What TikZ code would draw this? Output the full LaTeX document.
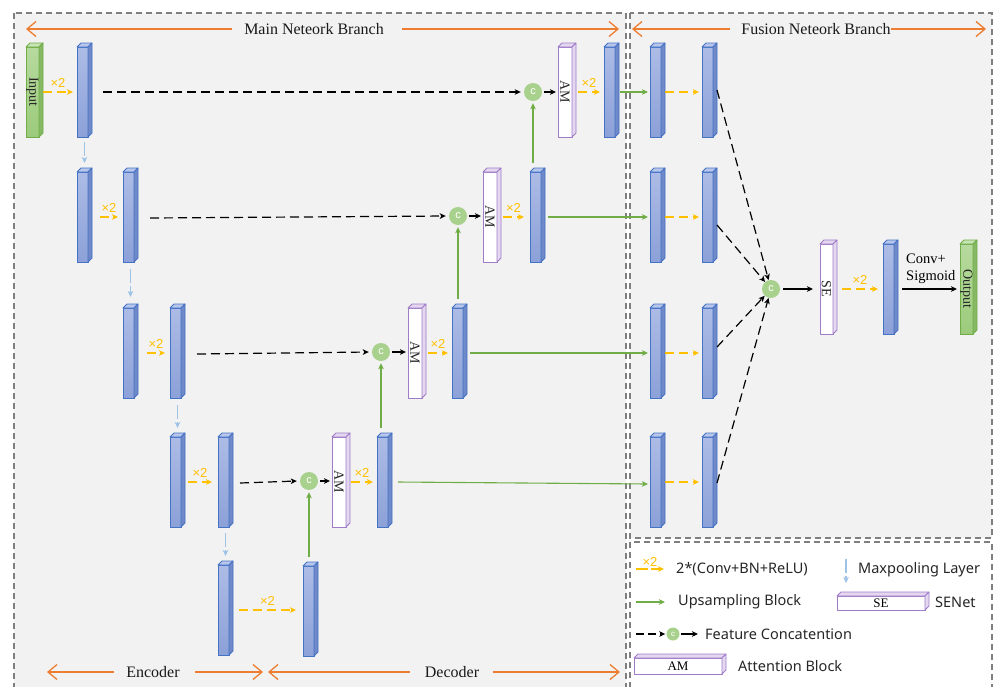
\documentclass[tikz,border=0pt]{standalone}
\usepackage{fontspec}
\setmainfont{Liberation Serif}
\newfontfamily\legendfont{Noto Sans}
\newfontfamily\markfont{Liberation Sans}
\usetikzlibrary{arrows.meta,calc}

\definecolor{panelfill}{HTML}{F2F2F2}
\definecolor{boxline}{HTML}{7F7F7F}
\definecolor{barline}{HTML}{4472C4}
\definecolor{bartop}{HTML}{ADBCE6}
\definecolor{barbot}{HTML}{8CA1D8}
\definecolor{barside}{HTML}{6F89C9}
\definecolor{barcap}{HTML}{B8C6EC}
\definecolor{ioline}{HTML}{70AD47}
\definecolor{iotop}{HTML}{B7DA9F}
\definecolor{iobot}{HTML}{9CCB7C}
\definecolor{ioside}{HTML}{86B865}
\definecolor{iocap}{HTML}{C8E4B4}
\definecolor{amline}{HTML}{A07CC8}
\definecolor{amside}{HTML}{E3D8F0}
\definecolor{convcol}{HTML}{FFC000}
\definecolor{poolcol}{HTML}{9DC3E6}
\definecolor{upcol}{HTML}{70AD47}
\definecolor{catfill}{HTML}{A9D18E}
\definecolor{spancol}{HTML}{ED7D31}

% side and top faces of a block whose front face is node #1
\newcommand\prismfaces[4]{%
  \filldraw[fill=#3, draw=#4, line width=0.8pt, line join=round]
    (#1.north west) -- ([shift={(4pt,4pt)}]#1.north west)
    -- ([shift={(4pt,4pt)}]#1.north east) -- (#1.north east) -- cycle;
  \filldraw[fill=#2, draw=#4, line width=0.8pt, line join=round]
    (#1.north east) -- ([shift={(4pt,4pt)}]#1.north east)
    -- ([shift={(4pt,4pt)}]#1.south east) -- (#1.south east) -- cycle;
}

\tikzset{
  face/.style={inner sep=0pt, outer sep=0pt, anchor=north west, line width=1pt, line join=round},
  fmap/.style={face, draw=barline, top color=bartop, bottom color=barbot,
    minimum width=11pt, minimum height=90pt},
  iomap/.style={face, draw=ioline, top color=iotop, bottom color=iobot,
    minimum width=13pt, minimum height=90pt},
  attn/.style={face, draw=amline, fill=white, minimum width=14pt, minimum height=90pt},
  vtext/.style={rotate=-90, font=\fontsize{14}{14}\selectfont, text=black!85},
  cat/.style={circle, fill=catfill, minimum size=18pt, inner sep=0pt, text=white,
    font=\markfont\fontsize{11}{11}\selectfont},
  tipS/.style={-{Stealth[length=6pt,width=5.5pt,inset=1.5pt]}},
  conv/.style={draw=convcol, line width=1.2pt, dash pattern=on 9pt off 5pt, tipS},
  mult/.style={text=convcol, font=\markfont\fontsize{13}{13}\selectfont, inner sep=1pt},
  pool/.style={draw=poolcol, line width=1.1pt, dash pattern=on 14pt off 3pt, tipS},
  upsmp/.style={draw=upcol, line width=1.1pt, tipS},
  skiparrow/.style={draw=black, line width=1.2pt, dash pattern=on 9pt off 5pt, tipS},
  feedarrow/.style={draw=black, line width=1.2pt, tipS},
  panel/.style={draw=boxline, line width=1.2pt, dash pattern=on 6pt off 4pt},
  spanarrow/.style={draw=spancol, line width=1.3pt, -{Straight Barb[length=9pt,width=15pt,line width=1.3pt]}},
  spantext/.style={inner sep=0pt, font=\fontsize{16}{16}\selectfont, text=black!90},
  legtext/.style={anchor=west, inner sep=0pt, font=\legendfont\fontsize{14.5}{17}\selectfont, text=black!85},
}

\begin{document}
\begin{tikzpicture}[x=1pt,y=-1pt]
\useasboundingbox (0,0) rectangle (995,686);
\clip (0,0) rectangle (995,686);

% panels
\filldraw[panel, fill=panelfill] (14,13) rectangle (626,700);
\filldraw[panel, fill=panelfill] (630,13) rectangle (992,538);
\draw[panel] (630,542) rectangle (992,700);

% branch spans
\node[spantext] (mainlbl) at (314,29) {Main Neteork Branch};
\coordinate (mainL) at (26,29);
\coordinate (mainR) at (619,29);
\draw[spanarrow] ([xshift=-12pt]mainlbl.west) -- (mainL);
\draw[spanarrow] ([xshift=18pt]mainlbl.east) -- (mainR);

\node[spantext] (fuslbl) at (816,29) {Fusion Neteork Branch};
\coordinate (fusL) at (632,29);
\coordinate (fusR) at (986,29);
\draw[spanarrow] ([xshift=-11pt]fuslbl.west) -- (fusL);
\draw[spanarrow] (fuslbl.east) -- (fusR);

\node[spantext] (enclbl) at (153,672) {Encoder};
\coordinate (encL) at (47,672);
\coordinate (encR) at (263,672);
\draw[spanarrow] ([xshift=-12pt]enclbl.west) -- (encL);
\draw[spanarrow] ([xshift=15pt]enclbl.east) -- (encR);

\node[spantext] (declbl) at (452,672) {Decoder};
\coordinate (decL) at (268,672);
\coordinate (decR) at (620,672);
\draw[spanarrow] ([xshift=-15pt]declbl.west) -- (decL);
\draw[spanarrow] ([xshift=14pt]declbl.east) -- (decR);

% encoder
\node[iomap, label={[vtext]center:Input}] (in) at (26,47) {};
\node[fmap] (e1a) at (77,47) {};
\node[fmap] (e2a) at (77,172) {};
\node[fmap] (e2b) at (123,172) {};
\node[fmap] (e3a) at (123,308) {};
\node[fmap] (e3b) at (170,308) {};
\node[fmap] (e4a) at (170,437) {};
\node[fmap] (e4b) at (218,437) {};
\node[fmap] (b5a) at (218,565) {};
\node[fmap] (b5b) at (303,566) {};

% decoder
\node[attn, label={[vtext]center:AM}] (am4) at (332,437) {};
\node[fmap] (d4) at (377,437) {};
\node[attn, label={[vtext]center:AM}] (am3) at (408,308) {};
\node[fmap] (d3) at (452,308) {};
\node[attn, label={[vtext]center:AM}] (am2) at (483,172) {};
\node[fmap] (d2) at (530,172) {};
\node[attn, label={[vtext]center:AM}] (am1) at (558,47) {};
\node[fmap] (d1) at (604,47) {};

% fusion branch
\node[fmap] (f1a) at (650,47) {};
\node[fmap] (f1b) at (702,47) {};
\node[fmap] (f2a) at (650,172) {};
\node[fmap] (f2b) at (702,172) {};
\node[fmap] (f3a) at (650,308) {};
\node[fmap] (f3b) at (702,308) {};
\node[fmap] (f4a) at (650,437) {};
\node[fmap] (f4b) at (702,437) {};
\node[attn, minimum width=13pt, minimum height=90pt, label={[vtext]center:SE}] (se) at (820,244) {};
\node[fmap] (f6) at (883,244) {};
\node[iomap, label={[vtext]center:Output}] (out) at (960,244) {};

\foreach \n in {e1a,e2a,e2b,e3a,e3b,e4a,e4b,b5a,b5b,d1,d2,d3,d4,f1a,f1b,f2a,f2b,f3a,f3b,f4a,f4b,f6}
  {\prismfaces{\n}{barside}{barcap}{barline}}
\foreach \n in {in,out}
  {\prismfaces{\n}{ioside}{iocap}{ioline}}
\foreach \n in {am1,am2,am3,am4,se}
  {\prismfaces{\n}{amside}{amside}{amline}}

% concatenation points
\node[cat] (c1) at (533,92) {c};
\node[cat] (c2) at (458,216) {c};
\node[cat] (c3) at (381,352) {c};
\node[cat] (c4) at (309,481) {c};
\node[cat] (c5) at (771,289) {c};

% double convolutions
\draw[conv] ([xshift=4pt]in.east) -- ([xshift=-4pt]e1a.west) node[midway, above=3pt, mult] {×2};
\draw[conv] ([xshift=12pt]e2a.east) -- ([xshift=-5pt]e2b.west) node[midway, above=3pt, mult] {×2};
\draw[conv] ([xshift=13pt]e3a.east) -- ([xshift=-5pt]e3b.west) node[midway, above=3pt, mult] {×2};
\draw[conv] ([xshift=7pt]e4a.east) -- ([xshift=-6pt]e4b.west) node[midway, above=3pt, mult] {×2};
\draw[conv] ([xshift=10pt]b5a.east) -- ([xshift=-7pt,yshift=1pt]b5b.west) node[midway, above=3pt, mult] {×2};
\draw[conv] ([xshift=5pt]am4.east) -- ([xshift=-4pt]d4.west) node[midway, above=3pt, mult] {×2};
\draw[conv] ([xshift=6pt]am3.east) -- ([xshift=-4pt]d3.west) node[midway, above=3pt, mult] {×2};
\draw[conv] ([xshift=6pt]am2.east) -- ([xshift=-6pt]d2.west) node[midway, above=3pt, mult] {×2};
\draw[conv] ([xshift=6pt]am1.east) -- ([xshift=-4pt]d1.west) node[midway, above=3pt, mult] {×2};
\draw[conv] ([xshift=9pt]se.east) -- ([xshift=-5pt]f6.west) node[midway, above=3pt, mult] {×2};
\foreach \r in {1,2,3,4}
  {\draw[conv] ([xshift=4pt]f\r a.east) -- ([xshift=-3pt]f\r b.west);}

% max pooling
\draw[pool] ([xshift=2pt,yshift=-5pt]e1a.south) -- ([xshift=2pt,yshift=9pt]e2a.north);
\draw[pool] ([xshift=2pt,yshift=-7pt]e2b.south) -- ([xshift=2pt,yshift=11pt]e3a.north);
\draw[pool] ([xshift=2pt,yshift=-7pt]e3b.south) -- ([xshift=2pt,yshift=9pt]e4a.north);
\draw[pool] ([xshift=2pt,yshift=-6pt]e4b.south) -- ([xshift=2pt,yshift=9pt]b5a.north);

% skip connections
\draw[skiparrow] ([xshift=15pt]e1a.east) -- ([xshift=-3pt]c1.west);
\draw[skiparrow] ([xshift=16pt,yshift=-1pt]e2b.east) -- ([xshift=-3pt]c2.west);
\draw[skiparrow] ([xshift=16pt,yshift=-1pt]e3b.east) -- ([xshift=-3pt]c3.west);
\draw[skiparrow] ([xshift=11pt,yshift=-1pt]e4b.east) -- ([xshift=-3pt]c4.west);

\draw[feedarrow] ([xshift=2pt]c1.east) -- ([xshift=-2pt]c1 -| am1.west);
\draw[feedarrow] ([xshift=2pt]c2.east) -- ([xshift=-2pt]c2 -| am2.west);
\draw[feedarrow] ([xshift=2pt]c3.east) -- ([xshift=-2pt]c3 -| am3.west);
\draw[feedarrow] ([xshift=2pt]c4.east) -- ([xshift=-2pt]c4 -| am4.west);

% upsampling
\draw[upsmp] ([yshift=9pt]c1 |- d2.north) -- ([yshift=-2pt]c1.south);
\draw[upsmp] ([yshift=9pt]c2 |- d3.north) -- ([yshift=-2pt]c2.south);
\draw[upsmp] ([yshift=9pt]c3 |- d4.north) -- ([yshift=-2pt]c3.south);
\draw[upsmp] ([yshift=9pt]c4 |- b5b.north) -- ([yshift=-2pt]c4.south);

\draw[upsmp] ([xshift=5pt]d1.east) -- ([xshift=-2pt]f1a.west);
\draw[upsmp] ([xshift=7pt]d2.east) -- ([xshift=-2pt]f2a.west);
\draw[upsmp] ([xshift=7pt]d3.east) -- ([xshift=-2pt]f3a.west);
\draw[upsmp] ([xshift=10pt]d4.east) -- ([xshift=-2pt,yshift=-2pt]f4a.west);

% fusion
\draw[skiparrow] ([xshift=4pt,yshift=2pt]f1b.east) -- (c5);
\draw[skiparrow] ([xshift=4pt,yshift=-8pt]f2b.east) -- (c5);
\draw[skiparrow] ([xshift=4pt,yshift=6pt]f3b.east) -- (c5);
\draw[skiparrow] ([xshift=4pt,yshift=-1pt]f4b.east) -- (c5);
\draw[feedarrow] ([xshift=3pt]c5.east) -- ([xshift=-7pt]c5 -| se.west);
\draw[feedarrow] ([xshift=8pt]f6.east) -- ([xshift=-3pt]out.west);
\node[anchor=south west, align=left, inner sep=0pt, font=\fontsize{14.5}{17}\selectfont]
  (headlbl) at (906,284) {Conv+\\Sigmoid};

% legend
\coordinate (lg1a) at (636,569); \coordinate (lg1b) at (664,569);
\draw[conv, dash pattern=on 12pt off 3pt] (lg1a) -- (lg1b) node[midway, above=1pt, mult] {×2};
\node[legtext] (lgconv) at (676,569) {2*(Conv+BN+ReLU)};

\coordinate (lg2a) at (846,559); \coordinate (lg2b) at (846,583);
\draw[pool] (lg2a) -- (lg2b);
\node[legtext] (lgpool) at (858,570) {Maxpooling Layer};

\coordinate (lg3a) at (636,602); \coordinate (lg3b) at (665,602);
\draw[upsmp] (lg3a) -- (lg3b);
\node[legtext] (lgup) at (678,602) {Upsampling Block};

\node[face, draw=amline, fill=white, minimum width=88pt, minimum height=14pt,
  font=\fontsize{13}{13}\selectfont] (lgse) at (837,596) {SE};
\prismfaces{lgse}{amside}{amside}{amline}
\node[legtext] (lgsetxt) at (935,602) {SENet};

\node[cat, minimum size=13pt, font=\markfont\fontsize{8}{8}\selectfont] (lgcat) at (673,634) {c};
\coordinate (lg4a) at (636,634); \coordinate (lg4b) at (698,634);
\draw[skiparrow, dash pattern=on 8pt off 4pt] (lg4a) -- ([xshift=-1pt]lgcat.west);
\draw[feedarrow] ([xshift=1pt]lgcat.east) -- (lg4b);
\node[legtext] (lgcattxt) at (705,634) {Feature Concatention};

\node[face, draw=amline, fill=white, minimum width=88pt, minimum height=16pt,
  font=\fontsize{13}{13}\selectfont] (lgam) at (634,658) {AM};
\prismfaces{lgam}{amside}{amside}{amline}
\node[legtext] (lgamtxt) at (738,666) {Attention Block};
\end{tikzpicture}
\end{document}
